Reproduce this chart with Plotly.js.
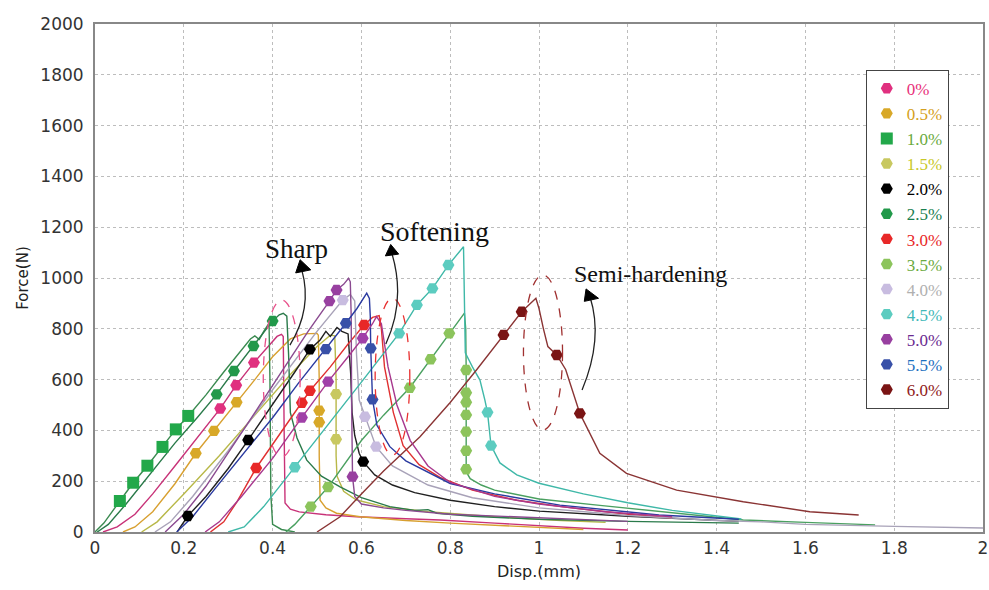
<!DOCTYPE html>
<html>
<head>
<meta charset="utf-8">
<script src="https://cdn.plot.ly/plotly-3.0.1.min.js"></script>
<style>html,body{margin:0;padding:0;background:#fff}#chart{width:989px;height:590px}</style>
</head>
<body>
<div id="chart"></div>
<script>
// ---- series names ----
const seriesNames = ['0%','0.5%','1.0%','1.5%','2.0%','2.5%','3.0%','3.5%','4.0%','4.5%','5.0%','5.5%','6.0%'];

// ---- curve data (Disp. mm, Force N) ----
const s00_x = [0.018,0.05,0.09,0.13,0.18,0.23,0.282,0.318,0.358,0.39,0.41,0.42,0.424,0.426,0.428,0.44,0.46,0.52,0.589,0.7,0.777,0.9,1.0,1.1,1.2];
const s00_y = [0,20,70,150,260,370,486,578,667,730,770,778,770,400,114,90,79,68,60,52,47,35,25,15,8];
const s00_mx = [0.282,0.318,0.358];
const s00_my = [486,578,667];

const s05_x = [0.063,0.09,0.13,0.18,0.227,0.268,0.319,0.36,0.4,0.44,0.47,0.5,0.503,0.505,0.505,0.507,0.52,0.544,0.597,0.7,0.8,0.9,1.0,1.1];
const s05_y = [0,20,80,190,310,398,511,600,690,760,780,782,775,600,300,125,95,74,60,45,35,26,18,10];
const s05_mx = [0.227,0.268,0.319,0.505,0.505];
const s05_my = [310,398,511,478,432];

const s10_x = [0,0.02,0.056,0.086,0.118,0.152,0.182,0.21,0.25,0.29,0.33,0.35,0.36,0.37,0.38,0.392,0.394,0.396,0.40,0.42,0.45];
const s10_y = [0,35,122,194,261,335,404,457,540,630,715,760,772,758,790,822,600,150,30,10,0];
const s10_mx = [0.056,0.086,0.118,0.152,0.182,0.21];
const s10_my = [122,194,261,335,404,457];

const s15_x = [0.105,0.14,0.2,0.28,0.36,0.44,0.5,0.53,0.54,0.543,0.543,0.545,0.56,0.589,0.65,0.75,0.9,1.05,1.15];
const s15_y = [0,40,150,300,460,620,730,775,772,600,300,220,160,126,100,80,60,45,38];
const s15_mx = [0.543,0.543];
const s15_my = [543,365];

const s20_x = [0.185,0.209,0.25,0.3,0.345,0.4,0.45,0.484,0.507,0.52,0.53,0.545,0.556,0.57,0.576,0.579,0.585,0.595,0.604,0.63,0.67,0.72,0.8,0.9,1.0,1.2,1.45];
const s20_y = [0,63,140,250,362,500,630,719,756,790,770,805,790,780,620,470,380,310,277,225,185,155,125,100,82,62,42];
const s20_mx = [0.209,0.345,0.484,0.604];
const s20_my = [63,362,719,277];

const s25_x = [0.005,0.03,0.07,0.12,0.18,0.23,0.274,0.313,0.357,0.4,0.415,0.424,0.432,0.436,0.44,0.455,0.477,0.51,0.552,0.6,0.664,0.72,0.75,0.77,0.85,1.0,1.2,1.45];
const s25_y = [0,30,110,220,350,450,542,634,732,831,855,861,850,700,470,370,283,220,178,135,100,85,88,74,62,50,42,35];
const s25_mx = [0.274,0.313,0.357,0.400];
const s25_my = [542,634,732,831];

const s30_x = [0.26,0.29,0.32,0.363,0.41,0.466,0.484,0.53,0.57,0.606,0.625,0.64,0.645,0.652,0.672,0.694,0.73,0.777,0.85,0.95,1.05,1.2,1.3];
const s30_y = [0,40,120,252,370,509,556,650,740,815,845,852,800,650,470,340,265,215,165,125,100,70,55];
const s30_mx = [0.363,0.466,0.484,0.606];
const s30_my = [252,509,556,815];

const s35_x = [0.43,0.45,0.486,0.525,0.6,0.65,0.709,0.756,0.798,0.832,0.835,0.836,0.836,0.84,0.845,0.87,0.9,1.0,1.137,1.3,1.46,1.6,1.757];
const s35_y = [0,30,100,177,360,460,568,680,782,862,800,638,247,225,210,185,165,130,105,75,47,38,28];
const s35_mx = [0.486,0.525,0.709,0.756,0.798,0.836,0.836,0.836,0.836,0.836,0.836,0.836];
const s35_my = [100,177,568,680,782,638,548,511,461,395,320,247];

const s40_x = [0.135,0.17,0.22,0.3,0.4,0.5,0.558,0.575,0.585,0.589,0.595,0.608,0.633,0.67,0.75,0.85,1.0,1.2,1.4,1.5,1.6,1.8,2.0];
const s40_y = [0,40,140,320,560,790,913,935,910,700,520,454,336,260,185,135,95,65,45,40,30,22,16];
const s40_mx = [0.558,0.608,0.633];
const s40_my = [913,454,336];

const s45_x = [0.3,0.336,0.38,0.45,0.5,0.55,0.6,0.685,0.725,0.76,0.796,0.83,0.832,0.834,0.85,0.867,0.878,0.884,0.892,0.912,0.95,1.0,1.1,1.2,1.3,1.456];
const s45_y = [0,20,100,255,370,480,590,782,894,959,1051,1123,950,705,650,598,520,471,340,272,225,192,150,115,85,51];
const s45_mx = [0.45,0.685,0.725,0.76,0.796,0.884,0.892];
const s45_my = [255,782,894,959,1051,471,340];

const s50_x = [0.158,0.2,0.25,0.3,0.36,0.42,0.48,0.528,0.544,0.56,0.571,0.575,0.577,0.578,0.58,0.585,0.6,0.65,0.7,0.8,1.0,1.2];
const s50_y = [0,70,180,310,470,630,790,909,953,975,999,985,850,500,218,140,110,95,85,70,55,42];
const s50_mx = [0.528,0.544,0.58];
const s50_my = [909,953,218];
const s50b_x = [0.248,0.28,0.33,0.4,0.466,0.525,0.57,0.603,0.625,0.634,0.645,0.66,0.68,0.71,0.75,0.8,0.9,1.0,1.15,1.3];
const s50b_y = [0,40,140,290,451,592,690,763,820,848,820,650,500,360,260,195,140,110,80,60];
const s50b_mx = [0.466,0.525,0.603];
const s50b_my = [451,592,763];

const s55_x = [0.184,0.22,0.27,0.33,0.4,0.46,0.52,0.565,0.59,0.605,0.612,0.618,0.62,0.621,0.625,0.635,0.664,0.7,0.8,0.9,1.047,1.27,1.45];
const s55_y = [0,60,170,300,450,590,720,822,880,920,940,920,850,723,522,420,336,280,191,150,106,67,50];
const s55_mx = [0.52,0.565,0.621,0.625];
const s55_my = [720,822,723,522];

const s60_x = [0.5,0.552,0.6,0.65,0.732,0.8,0.86,0.92,0.961,0.993,1.0,1.01,1.02,1.04,1.06,1.092,1.137,1.197,1.31,1.46,1.61,1.72];
const s60_y = [0,60,150,240,375,510,640,776,867,920,880,800,730,697,640,467,310,231,165,119,80,67];
const s60_mx = [0.92,0.961,1.04,1.092];
const s60_my = [776,867,697,467];

// ---- tick values ----
const xTicks = [0,0.2,0.4,0.6,0.8,1,1.2,1.4,1.6,1.8,2];
const xTickText = ['0','0.2','0.4','0.6','0.8','1','1.2','1.4','1.6','1.8','2'];
const yTicks = [0,200,400,600,800,1000,1200,1400,1600,1800,2000];

// ---- styles ----
const lineColors   = ['#c83278','#d8a030','#3a8a50','#b8b848','#202020','#2a7a4a','#e03030','#4aa060','#a8a2b8','#3fb8a8','#8a4a90','#2a3aa0','#8a3434'];
const markerColors = ['#e0307f','#d8a828','#22a84a','#c8c860','#000000','#22994a','#e82828','#8cc45c','#c8bce0','#5cccc0','#9840a0','#3850a8','#7a1414'];
const legendText   = ['#e8307a','#d4a020','#6aaa40','#c8c828','#000000','#1a8050','#e82828','#6aaa40','#b0b0b0','#40b8b8','#6a2a90','#1a70c0','#902020'];
const symbols = ['hexagon2','hexagon2','square','hexagon2','hexagon2','hexagon2','hexagon2','hexagon2','hexagon2','hexagon2','hexagon2','hexagon2','hexagon2'];

const series = [
  [s00_x,s00_y,s00_mx,s00_my],[s05_x,s05_y,s05_mx,s05_my],[s10_x,s10_y,s10_mx,s10_my],
  [s15_x,s15_y,s15_mx,s15_my],[s20_x,s20_y,s20_mx,s20_my],[s25_x,s25_y,s25_mx,s25_my],
  [s30_x,s30_y,s30_mx,s30_my],[s35_x,s35_y,s35_mx,s35_my],[s40_x,s40_y,s40_mx,s40_my],
  [s45_x,s45_y,s45_mx,s45_my],[s50_x,s50_y,s50_mx,s50_my],[s55_x,s55_y,s55_mx,s55_my],
  [s60_x,s60_y,s60_mx,s60_my]
];

const traces = [];
series.forEach((s,i)=>{
  traces.push({x:s[0],y:s[1],mode:'lines',type:'scatter',showlegend:false,hoverinfo:'skip',
    line:{color:lineColors[i],width:1.4}});
});
traces.push({x:s50b_x,y:s50b_y,mode:'lines',type:'scatter',showlegend:false,hoverinfo:'skip',
  line:{color:'#a8388e',width:1.4}});
series.forEach((s,i)=>{
  traces.push({x:s[2],y:s[3],mode:'markers',type:'scatter',legendgroup:'g'+i,
    name:'<span style="color:'+legendText[i]+'">'+seriesNames[i]+'</span>',
    marker:{symbol:symbols[i],size:12,color:markerColors[i],line:{width:0}}});
  if(i===10){
    traces.push({x:s50b_mx,y:s50b_my,mode:'markers',type:'scatter',showlegend:false,legendgroup:'g10',
      marker:{symbol:'hexagon2',size:12,color:'#a040a8',line:{width:0}}});
  }
});

// ---- annotation geometry (data coords) ----
const ellipses = [
  {x0:0.379,x1:0.462,y0:296,y1:913,color:'#e8508a'},
  {x0:0.631,x1:0.709,y0:303,y1:920,color:'#e83030'},
  {x0:0.965,x1:1.053,y0:402,y1:1012,color:'#a03030'}
];
const arrowCurves = [
  'M0.439,736 Q0.490,880 0.466,1030',
  'M0.655,740 Q0.700,910 0.669,1095',
  'M1.097,559 Q1.145,760 1.115,925'
];
const arrowHeads = [
  'M0.462,1072 L0.452,1020 L0.486,1032 Z',
  'M0.666,1132 L0.654,1087 L0.684,1094 Z',
  'M1.106,957 L1.102,908 L1.134,920 Z'
];
const labels = [
  {x:0.453,y:1114,text:'Sharp',size:27},
  {x:0.764,y:1185,text:'Softening',size:28},
  {x:1.25,y:1016,text:'Semi-hardening',size:24}
];

const shapes = [];
ellipses.forEach(e=>shapes.push({type:'circle',xref:'x',yref:'y',x0:e.x0,x1:e.x1,y0:e.y0,y1:e.y1,
  line:{color:e.color,width:1.3,dash:'dash'}}));
arrowCurves.forEach(p=>shapes.push({type:'path',xref:'x',yref:'y',path:p,line:{color:'#222',width:1.3}}));
arrowHeads.forEach(p=>shapes.push({type:'path',xref:'x',yref:'y',path:p,fillcolor:'#000',line:{color:'#000',width:1}}));

const annotations = labels.map(l=>({x:l.x,y:l.y,xref:'x',yref:'y',text:l.text,showarrow:false,
  font:{family:'Liberation Serif',size:l.size,color:'#111'}}));

const layout = {
  width:989,height:590,
  margin:{l:95,r:6,t:24,b:58,pad:0},
  paper_bgcolor:'#fff',plot_bgcolor:'#fff',
  showlegend:true,
  legend:{x:0.868,y:0.91,xanchor:'left',yanchor:'top',bgcolor:'#fff',bordercolor:'#444',borderwidth:1,
    font:{family:'Liberation Serif',size:17,color:'#000'},tracegroupgap:0,itemsizing:'constant',
    entrywidth:62,entrywidthmode:'pixels'},
  xaxis:{range:[0,2],tickvals:xTicks,ticktext:xTickText,showgrid:true,gridcolor:'#bdbdbd',griddash:'dot',gridwidth:1,
    showline:true,mirror:true,linecolor:'#888',linewidth:2,zeroline:false,ticks:'',
    tickfont:{family:'DejaVu Sans',size:17,color:'#333'},
    title:{text:'Disp.(mm)',font:{family:'DejaVu Sans',size:16,color:'#222'},standoff:8},automargin:false},
  yaxis:{range:[0,2000],tickvals:yTicks,showgrid:true,gridcolor:'#bdbdbd',griddash:'dot',gridwidth:1,
    showline:true,mirror:true,linecolor:'#888',linewidth:2,zeroline:false,ticks:'',
    tickfont:{family:'DejaVu Sans',size:17,color:'#333'},ticklabelstandoff:6,
    title:{text:'Force(N)',font:{family:'DejaVu Sans',size:15,color:'#222'},standoff:8},automargin:false},
  shapes:shapes,
  annotations:annotations
};

Plotly.newPlot('chart',traces,layout,{displayModeBar:false,staticPlot:true});
</script>
</body>
</html>
